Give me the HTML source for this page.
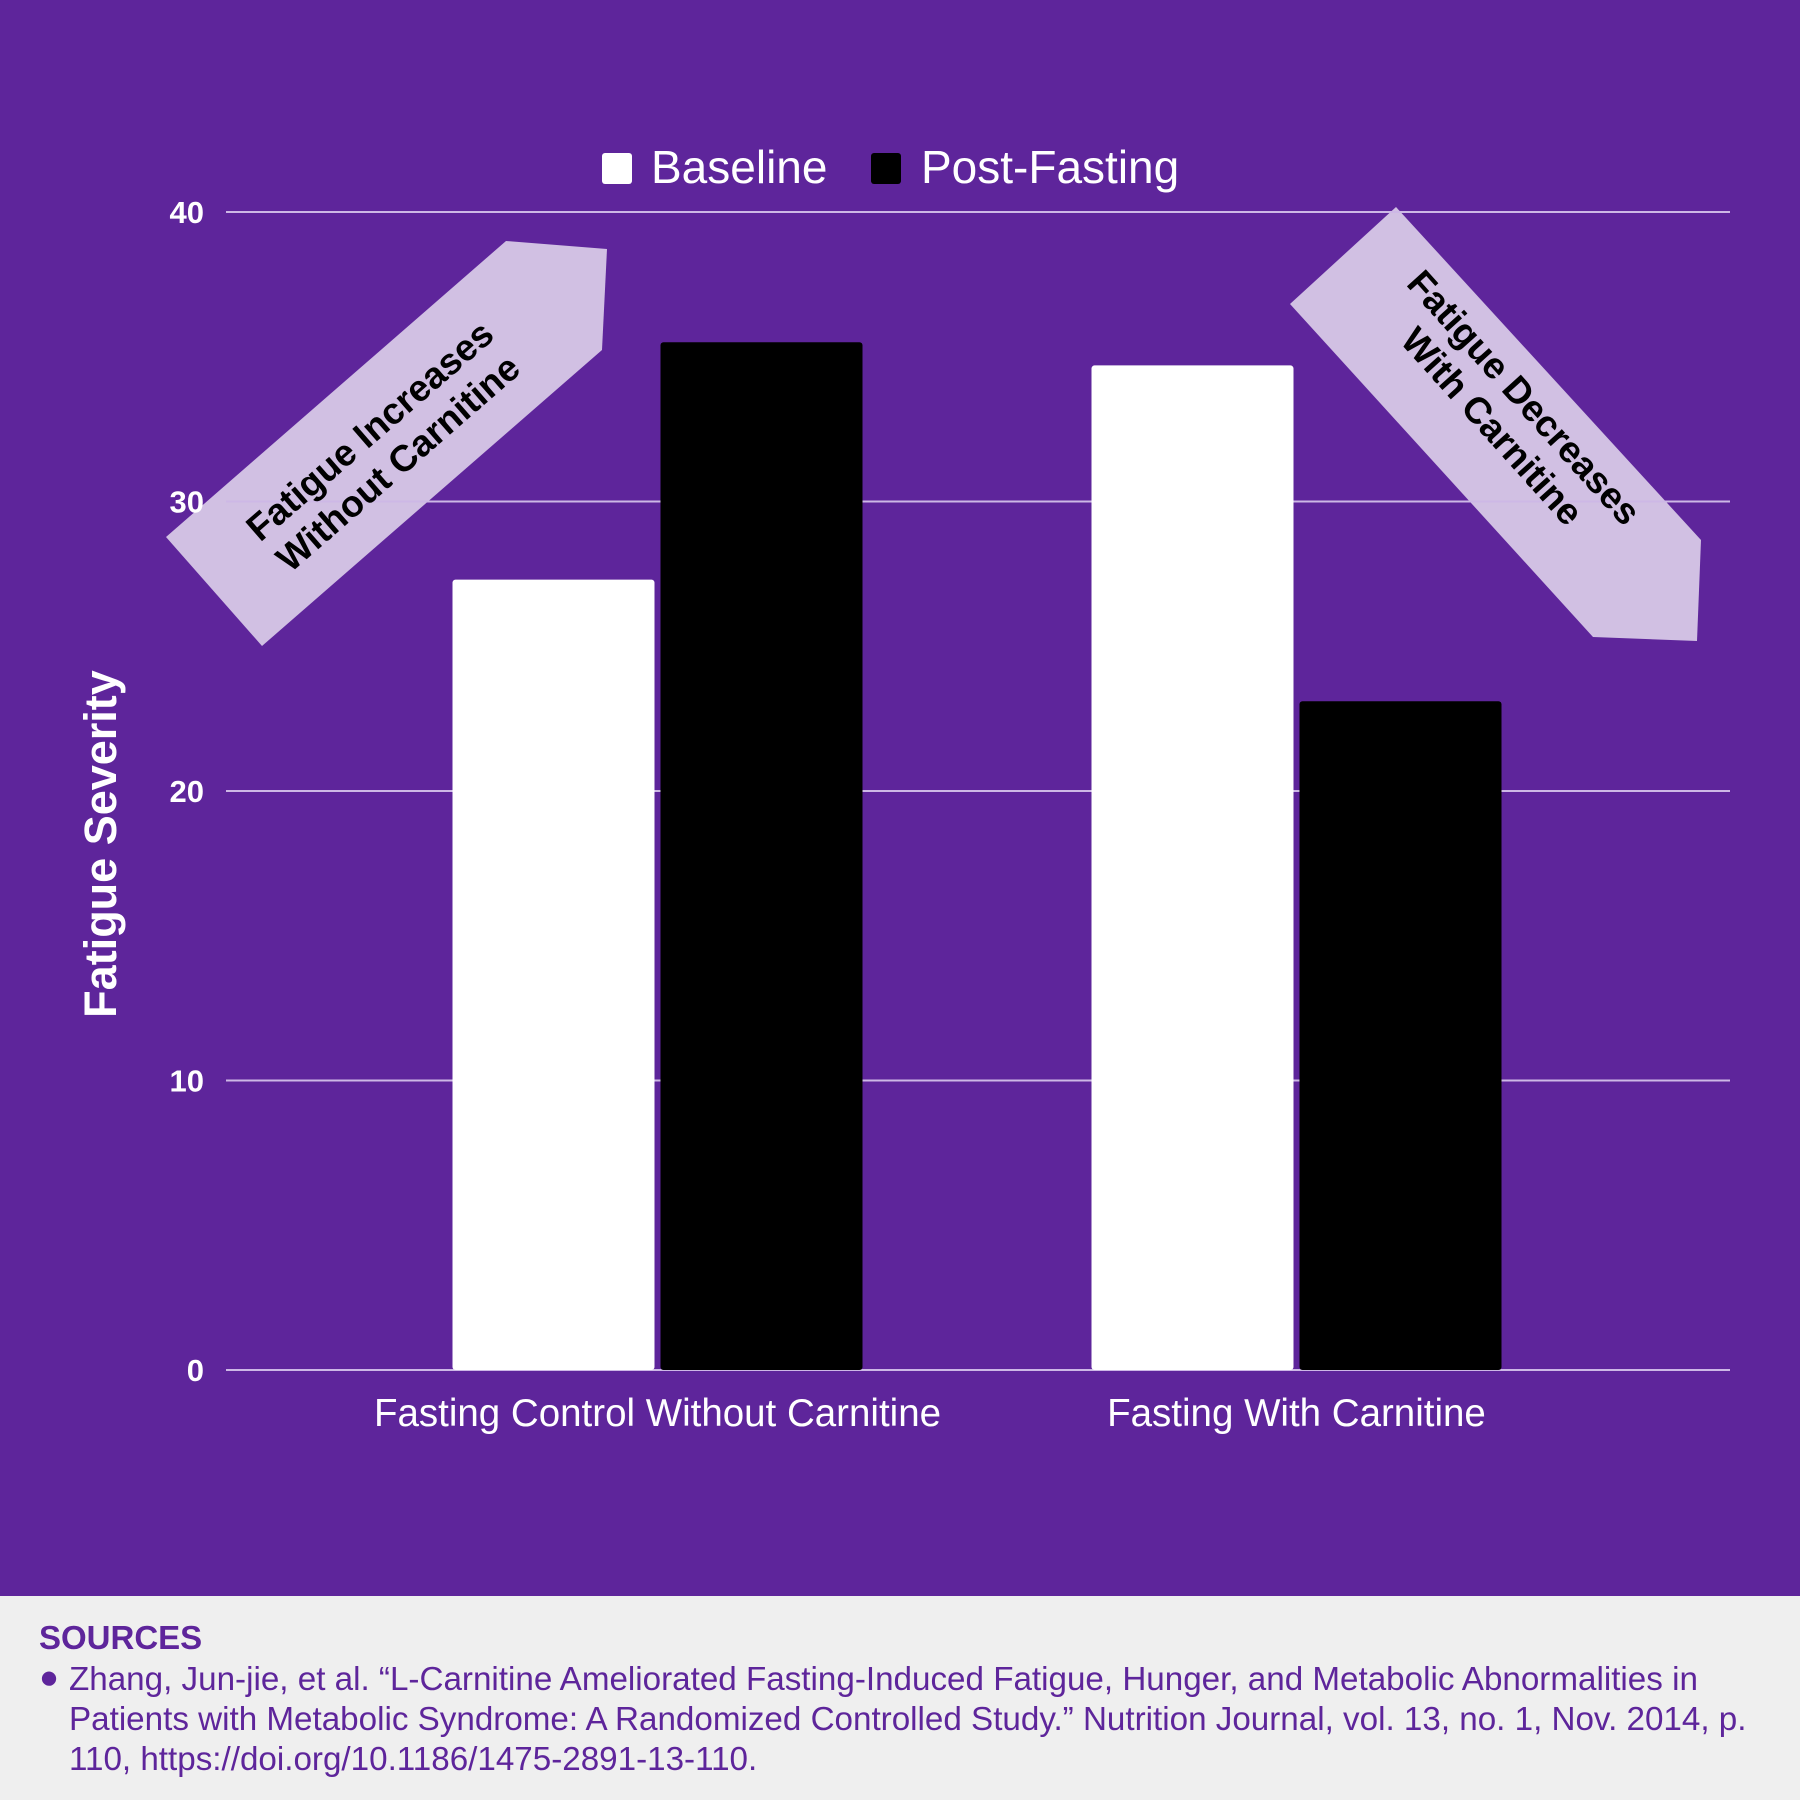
<!DOCTYPE html>
<html><head><meta charset="utf-8"><style>
body{margin:0;width:1800px;height:1800px;overflow:hidden;font-family:"Liberation Sans",sans-serif}
#main{position:absolute;left:0;top:0;width:1800px;height:1596px;background:#5e259b}
#foot{position:absolute;left:0;top:1596px;width:1800px;height:204px;background:#efefef;color:#5e259b}
</style></head><body>
<div id="main">
<svg id="chart" width="1800" height="1596"></svg>
</div>
<div id="foot">
<div style="position:absolute;left:39px;top:23px;font-weight:bold;font-size:33px">SOURCES</div>
<div style="position:absolute;left:39px;top:64px;font-size:33.2px;line-height:40px;width:1725px"><span style="position:absolute;left:0;top:-2px">●</span><div style="margin-left:30px">Zhang, Jun-jie, et al. “L-Carnitine Ameliorated Fasting-Induced Fatigue, Hunger, and Metabolic Abnormalities in Patients with Metabolic Syndrome: A Randomized Controlled Study.” Nutrition Journal, vol. 13, no. 1, Nov. 2014, p. 110, https://doi.org/10.1186/1475-2891-13-110.</div></div>
</div>
<script>
const categories=["Fasting Control Without Carnitine","Fasting With Carnitine"];
const baseline=[27.3,34.7];
const postFasting=[35.5,23.1];
const yTicks=[0,10,20,30,40];
const NS="http://www.w3.org/2000/svg";
const svg=document.getElementById('chart');
function mk(t,a,txt){const e=document.createElementNS(NS,t);for(const k in a)e.setAttribute(k,a[k]);if(txt!=null)e.textContent=txt;svg.appendChild(e);return e;}
const y0=1370,y40=212,xL=226,xR=1730;
function y(v){return y0-(y0-y40)*v/40;}
const bandStart=338,bandStep=639;
function gx(i){return bandStart+bandStep*(i+0.5);}
let e=mk('polygon',{points:'166,537 506,241 607,249 602,350 262,646',fill:'#d1c0e3'});


e=mk('polygon',{points:'1290,304 1396,207 1701,540 1697,641 1593,637',fill:'#d1c0e3'});


yTicks.forEach(t=>{
 const l=mk('line',{x1:xL,x2:xR,y1:y(t),y2:y(t),stroke:'#cdb8e6','stroke-width':2});
 
 
 const tx=mk('text',{x:204,y:y(t)+11,'text-anchor':'end',fill:'#fff','font-size':31,'font-weight':'bold'},t);
 
 
});
const bw=202;
categories.forEach((c,i)=>{
 const cx=gx(i);
 const b=mk('rect',{x:cx-bw-3,y:y(baseline[i]),width:bw,height:y(0)-y(baseline[i]),fill:'#fff',rx:3});
 
 
 const p=mk('rect',{x:cx+3,y:y(postFasting[i]),width:bw,height:y(0)-y(postFasting[i]),fill:'#000',rx:3});
 
 
 const t=mk('text',{x:cx,y:1426,'text-anchor':'middle',fill:'#fff','font-size':38.5},c);
 
 
});
const yt=mk('text',{x:0,y:0,transform:'translate(116,844) rotate(-90)','text-anchor':'middle',fill:'#fff','font-size':45,'font-weight':'bold'},'Fatigue Severity');


e=mk('rect',{x:602,y:153,width:30,height:31,fill:'#fff',rx:3});


e=mk('text',{x:651,y:183,fill:'#fff','font-size':46},'Baseline');


e=mk('rect',{x:871,y:153,width:30,height:31,fill:'#000',rx:3});


e=mk('text',{x:921,y:183,fill:'#fff','font-size':46},'Post-Fasting');


e=mk('text',{transform:'translate(384,447) rotate(-41)','text-anchor':'middle',fill:'#000','font-size':37,'font-weight':'bold'});


e.innerHTML='<tspan x="0" y="-9">Fatigue Increases</tspan><tspan x="0" y="34">Without Carnitine</tspan>';
e=mk('text',{transform:'translate(1508,412) rotate(48)','text-anchor':'middle',fill:'#000','font-size':37,'font-weight':'bold'});


e.innerHTML='<tspan x="0" y="-9">Fatigue Decreases</tspan><tspan x="0" y="34">With Carnitine</tspan>';
</script>
</body></html>
